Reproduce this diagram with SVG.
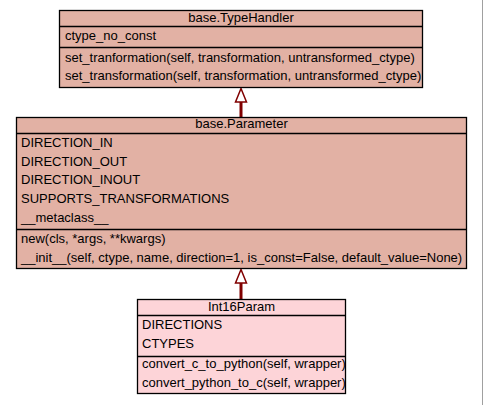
<svg xmlns="http://www.w3.org/2000/svg" width="483" height="405" viewBox="0 0 483 405">
<style>
  .base { fill: #e2b1a4; stroke: #000; stroke-width: 1.3; }
  .leaf { fill: #fdd4d8; stroke: #000; stroke-width: 1.3; }
  .sep { stroke: #000; stroke-width: 1.3; }
  text { font-family: "Liberation Sans", Arial, sans-serif; font-size: 13px; fill: #000; }
  .title { text-anchor: middle; }
  .edge { stroke: #800000; stroke-width: 3; fill: none; }
  .head { fill: #fff; stroke: #800000; stroke-width: 1.5; }
</style>
<rect x="0" y="0" width="483" height="405" fill="#fff"/>
<line x1="482.5" y1="0" x2="482.5" y2="405" stroke="#a0a0a0" stroke-width="1"/>

<g id="connectors">
  <line class="edge" x1="241" y1="102" x2="241" y2="117"/>
  <polygon class="head" points="241,88.5 235.5,102 246.5,102"/>
  <line class="edge" x1="241" y1="283" x2="241" y2="299"/>
  <polygon class="head" points="241,269.5 235.5,283 246.5,283"/>
</g>

<g id="TypeHandler">
  <rect class="base" x="59.5" y="10.5" width="363" height="77"/>
  <line class="sep" x1="59.5" y1="26.5" x2="422.5" y2="26.5"/>
  <line class="sep" x1="59.5" y1="47.5" x2="422.5" y2="47.5"/>
  <text class="title" x="241" y="22">base.TypeHandler</text>
  <text x="65" y="40">ctype_no_const</text>
  <text x="65" y="62">set_tranformation(self, transformation, untransformed_ctype)</text>
  <text x="65" y="80">set_transformation(self, transformation, untransformed_ctype)</text>
</g>

<g id="Parameter">
  <rect class="base" x="16.5" y="117.5" width="450" height="151"/>
  <line class="sep" x1="16.5" y1="133.5" x2="466.5" y2="133.5"/>
  <line class="sep" x1="16.5" y1="229.5" x2="466.5" y2="229.5"/>
  <text class="title" x="241.5" y="128">base.Parameter</text>
  <text x="21" y="147">DIRECTION_IN</text>
  <text x="21" y="166">DIRECTION_OUT</text>
  <text x="21" y="184">DIRECTION_INOUT</text>
  <text x="21" y="203">SUPPORTS_TRANSFORMATIONS</text>
  <text x="21" y="222">__metaclass__</text>
  <text x="21" y="243">new(cls, *args, **kwargs)</text>
  <text x="21" y="262">__init__(self, ctype, name, direction=1, is_const=False, default_value=None)</text>
</g>

<g id="Int16Param">
  <rect class="leaf" x="137.5" y="299.5" width="208" height="94"/>
  <line class="sep" x1="137.5" y1="315.5" x2="345.5" y2="315.5"/>
  <line class="sep" x1="137.5" y1="356.5" x2="345.5" y2="356.5"/>
  <text class="title" x="241.5" y="311">Int16Param</text>
  <text x="142" y="329">DIRECTIONS</text>
  <text x="142" y="348">CTYPES</text>
  <text x="142" y="368">convert_c_to_python(self, wrapper)</text>
  <text x="142" y="387">convert_python_to_c(self, wrapper)</text>
</g>
</svg>
